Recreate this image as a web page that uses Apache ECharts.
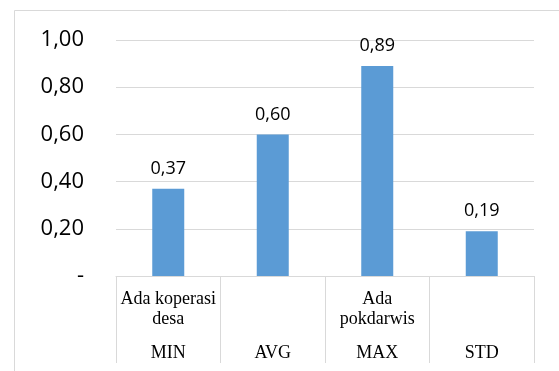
<!DOCTYPE html>
<html>
<head>
<meta charset="utf-8">
<script src="https://cdn.jsdelivr.net/npm/echarts@6/dist/echarts.min.js"></script>
<style>
  html, body { margin: 0; padding: 0; background: #fff; }
  #chart { width: 559px; height: 371px; }
</style>
</head>
<body>
<div id="chart"></div>
<script>
// Two-level category axis: group labels above, statistic names below
const groupLabels = ['Ada koperasi\ndesa', '', 'Ada\npokdarwis', ''];
const statLabels = ['MIN', 'AVG', 'MAX', 'STD'];
const values = [0.37, 0.60, 0.89, 0.19];
const yTicks = [0, 0.2, 0.4, 0.6, 0.8, 1.0];

const fmt = v => v.toFixed(2).replace('.', ',');
const gridColor = '#D9D9D9';

const chart = echarts.init(document.getElementById('chart'));
chart.setOption({
  animation: false,
  backgroundColor: '#fff',
  grid: { left: 116, right: 25, top: 40, bottom: 95 },
  graphic: [{
    type: 'rect',
    shape: { x: 14.5, y: 10.5, width: 600, height: 400 },
    style: { fill: 'none', stroke: gridColor, lineWidth: 1 },
    silent: true
  }],
  xAxis: [{
    type: 'category',
    data: groupLabels,
    position: 'bottom',
    axisLine: { show: true, lineStyle: { color: gridColor } },
    axisTick: { show: true, length: 87, lineStyle: { color: gridColor } },
    axisLabel: {
      interval: 0, margin: 13,
      fontFamily: 'Liberation Serif', fontSize: 18, lineHeight: 20, color: '#000'
    }
  }, {
    type: 'category',
    data: statLabels,
    position: 'bottom',
    axisLine: { show: false },
    axisTick: { show: false },
    axisLabel: {
      interval: 0, margin: 67,
      fontFamily: 'Liberation Serif', fontSize: 18, lineHeight: 20, color: '#000'
    }
  }],
  yAxis: {
    type: 'value',
    min: yTicks[0], max: yTicks[yTicks.length - 1], interval: 0.2,
    axisLine: { show: false },
    axisTick: { show: false },
    splitLine: { lineStyle: { color: gridColor, width: 1 } },
    axisLabel: {
      margin: 32,
      fontFamily: 'Open Sans', fontSize: 22, color: '#000',
      formatter: v => (v === 0 ? '-' : fmt(v))
    }
  },
  series: [{
    type: 'bar',
    data: values,
    barWidth: 32,
    itemStyle: { color: '#5B9BD5' },
    label: {
      show: true, position: 'top', distance: 11,
      fontFamily: 'Open Sans', fontSize: 18, color: '#000',
      formatter: p => fmt(p.value)
    }
  }]
});
</script>
</body>
</html>
